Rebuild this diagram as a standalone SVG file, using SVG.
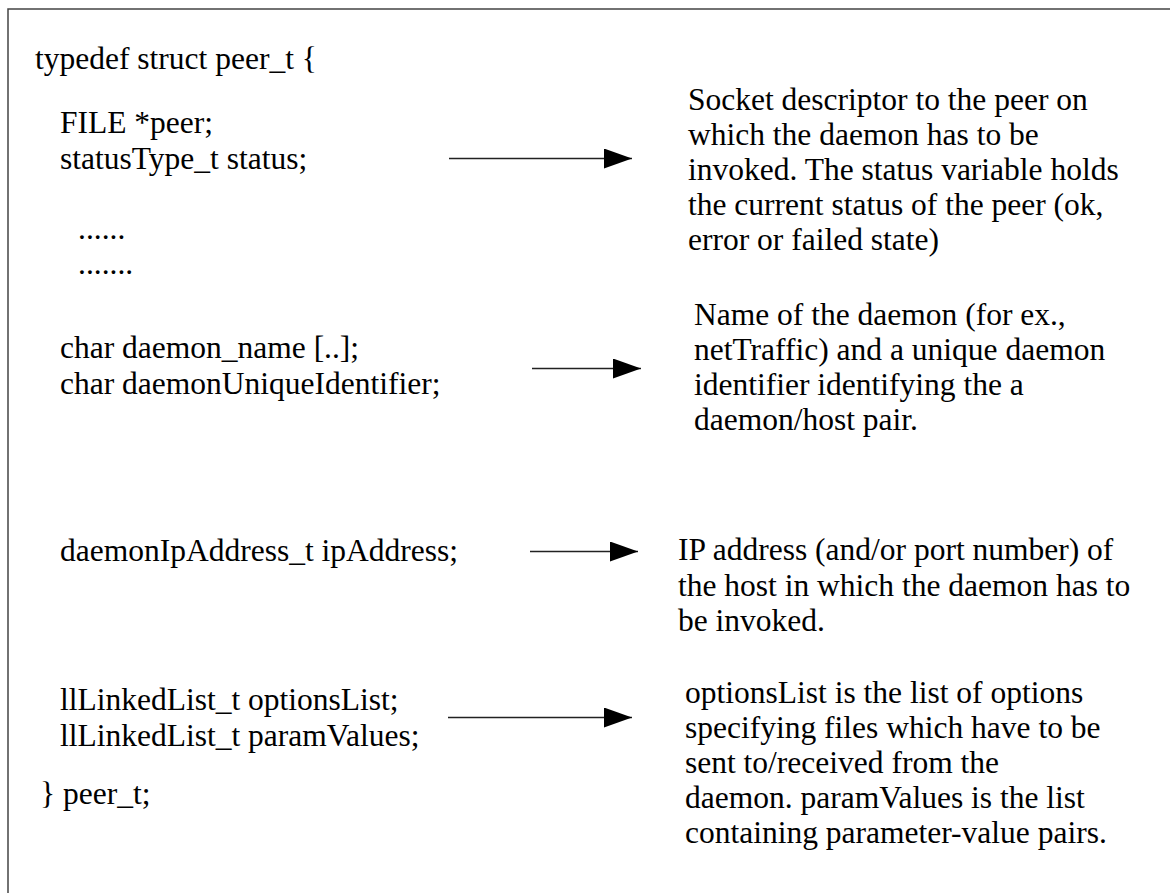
<svg xmlns="http://www.w3.org/2000/svg" width="1170" height="893" viewBox="0 0 1170 893">
  <style>
    .t { font-family: "Liberation Serif", "Times New Roman", serif; font-size: 31.5px; fill: #000; }
    .frame { stroke: #444; stroke-width: 1.5; fill: none; }
    .conn { stroke: #222; stroke-width: 1.3; fill: none; marker-end: url(#head); }
  </style>
  <defs>
    <marker id="head" markerUnits="userSpaceOnUse" markerWidth="28" markerHeight="20" refX="28" refY="10" orient="auto">
      <path d="M0,0 L28,10 L0,20 Z" fill="#000"/>
    </marker>
  </defs>
  <rect width="1170" height="893" fill="#fff"/>
  <path class="frame" d="M8,893 L8,9 L1170,9"/>

  <g id="struct-code">
    <text class="t" x="35" y="69">typedef struct peer_t {</text>
    <text class="t" x="60" y="133">FILE *peer;</text>
    <text class="t" x="60" y="169">statusType_t status;</text>
    <text class="t" x="78" y="239">......</text>
    <text class="t" x="78" y="274">.......</text>
    <text class="t" x="60" y="358">char daemon_name [..];</text>
    <text class="t" x="60" y="394">char daemonUniqueIdentifier;</text>
    <text class="t" x="60" y="561">daemonIpAddress_t ipAddress;</text>
    <text class="t" x="60" y="710">llLinkedList_t optionsList;</text>
    <text class="t" x="60" y="746">llLinkedList_t paramValues;</text>
    <text class="t" x="40" y="804">} peer_t;</text>
  </g>

  <g id="note-peer">
    <text class="t" x="688" y="110">Socket descriptor to the peer on</text>
    <text class="t" x="688" y="145">which the daemon has to be</text>
    <text class="t" x="688" y="180">invoked. The status variable holds</text>
    <text class="t" x="688" y="215">the current status of the peer (ok,</text>
    <text class="t" x="688" y="250">error or failed state)</text>
  </g>

  <g id="note-daemon">
    <text class="t" x="694" y="325">Name of the daemon (for ex.,</text>
    <text class="t" x="694" y="360">netTraffic) and a unique daemon</text>
    <text class="t" x="694" y="395">identifier identifying the a</text>
    <text class="t" x="694" y="430">daemon/host pair.</text>
  </g>

  <g id="note-address">
    <text class="t" x="678" y="560">IP address (and/or port number) of</text>
    <text class="t" x="678" y="596">the host in which the daemon has to</text>
    <text class="t" x="678" y="631">be invoked.</text>
  </g>

  <g id="note-lists">
    <text class="t" x="685" y="703">optionsList is the list of options</text>
    <text class="t" x="685" y="738">specifying files which have to be</text>
    <text class="t" x="685" y="773">sent to/received from the</text>
    <text class="t" x="685" y="808">daemon. paramValues is the list</text>
    <text class="t" x="685" y="843">containing parameter-value pairs.</text>
  </g>

  <g id="connectors">
    <line class="conn" x1="449" y1="158.5" x2="632" y2="158.5"/>
    <line class="conn" x1="532" y1="368.5" x2="641" y2="368.5"/>
    <line class="conn" x1="530" y1="551.5" x2="638" y2="551.5"/>
    <line class="conn" x1="448" y1="717.5" x2="632" y2="717.5"/>
  </g>
</svg>
